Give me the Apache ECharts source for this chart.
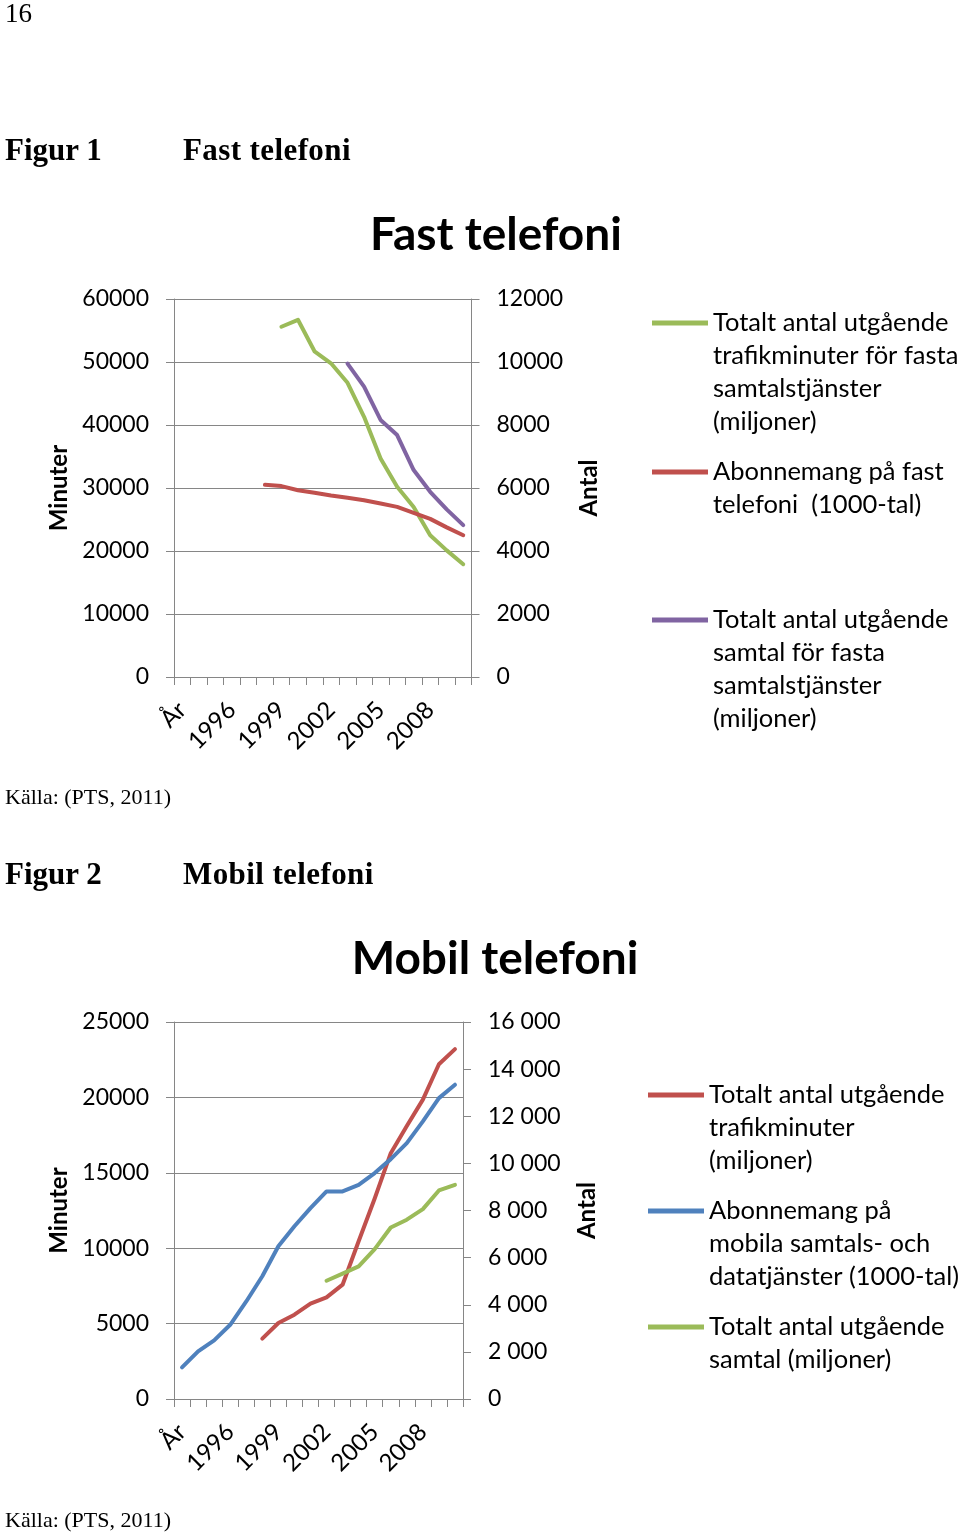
<!DOCTYPE html>
<html>
<head>
<meta charset="utf-8">
<script src="https://cdn.jsdelivr.net/npm/echarts@6/dist/echarts.min.js"></script>
<style>
  html, body { margin: 0; padding: 0; background: #fff; }
  #page { position: relative; width: 960px; height: 1537px; overflow: hidden; }
  #chart { position: absolute; left: 0; top: 0; width: 960px; height: 1537px; }
  .t { position: absolute; font-family: "Liberation Serif", serif; color: #000; white-space: nowrap; line-height: 1; }
  .h { font-weight: bold; font-size: 31px; }
  .src { font-size: 22px; }
</style>
</head>
<body>
<div id="page">
  <div id="chart"></div>
  <div class="t" style="left:5px;top:0px;font-size:27px">16</div>
  <div class="t h" style="left:5px;top:134px">Figur 1</div>
  <div class="t h" style="left:183px;top:134px;letter-spacing:0.4px">Fast telefoni</div>
  <div class="t src" style="left:5px;top:786px">Källa: (PTS, 2011)</div>
  <div class="t h" style="left:5px;top:858px">Figur 2</div>
  <div class="t h" style="left:183px;top:858px;letter-spacing:0.4px">Mobil telefoni</div>
  <div class="t src" style="left:5px;top:1509px">Källa: (PTS, 2011)</div>
</div>
<script>
'use strict';
// Figur 1 och 2 - fast och mobil telefoni (PTS, 2011)

const years = ['År', '1994', '1995', '1996', '1997', '1998', '1999', '2000', '2001',
  '2002', '2003', '2004', '2005', '2006', '2007', '2008', '2009', '2010'];

// ---------- Fast telefoni ----------
const fastMinuter = [null, null, null, null, null, null, 55600, 56700, 51700, 49800, 46700, 41300, 34700, 30200, 27000, 22500, 20100, 17900];
const fastAbonnemang = [null, null, null, null, null, 6100, 6060, 5930, 5850, 5760, 5690, 5610, 5510, 5400, 5210, 5020, 4750, 4500];
const fastSamtal = [null, null, null, null, null, null, null, null, null, null, 9950, 9220, 8160, 7680, 6570, 5880, 5320, 4820];

// ---------- Mobil telefoni ----------
const mobilMinuter = [null, null, null, null, null, 4000, 5040, 5590, 6320, 6740, 7580, 10460, 13300, 16300, 18100, 19850, 22200, 23200];
const mobilAbonnemang = [1340, 2020, 2490, 3150, 4140, 5210, 6480, 7330, 8100, 8810, 8810, 9090, 9590, 10180, 10860, 11780, 12770, 13340];
const mobilSamtal = [null, null, null, null, null, null, null, null, null, 5020, 5320, 5630, 6360, 7280, 7610, 8060, 8850, 9090];

const N_FAST_MIN = 'Totalt antal utgående\ntrafikminuter för fasta\nsamtalstjänster\n(miljoner)';
const N_FAST_ABO = 'Abonnemang på fast\ntelefoni  (1000-tal)';
const N_FAST_SAM = 'Totalt antal utgående\nsamtal för fasta\nsamtalstjänster\n(miljoner)';
const N_MOB_MIN = 'Totalt antal utgående\ntrafikminuter\n(miljoner)';
const N_MOB_ABO = 'Abonnemang på\nmobila samtals- och\ndatatjänster (1000-tal)';
const N_MOB_SAM = 'Totalt antal utgående\nsamtal (miljoner)';

const COLOR = { blue: '#4F81BD', red: '#C0504D', green: '#9BBB59', purple: '#8064A2', axis: '#868686', text: '#000' };
const FONT = 'Lato, "Open Sans", sans-serif';
const LINE_H = 33;

const plain = (v) => String(v);
const spaced = (v) => String(v).replace(/\B(?=(\d{3})+(?!\d))/g, ' ');

function xAxis(gridIndex) {
  return {
    type: 'category', gridIndex, data: years, boundaryGap: true,
    axisLine: { lineStyle: { color: COLOR.axis, width: 1 } },
    axisTick: { show: true, interval: 0, length: 8, lineStyle: { color: COLOR.axis } },
    axisLabel: { interval: 2, rotate: 45, margin: 29, color: COLOR.text, fontFamily: FONT, fontSize: 24 },
    splitLine: { show: false }
  };
}

function yAxis(gridIndex, position, max, interval, fmt, opts) {
  return Object.assign({
    type: 'value', gridIndex, position, min: 0, max, interval,
    nameLocation: 'middle', nameRotate: 90,
    nameTextStyle: { color: COLOR.text, fontFamily: FONT, fontSize: 24, fontWeight: 'bold' },
    axisLine: { show: true, lineStyle: { color: COLOR.axis, width: 1 } },
    axisTick: { show: true, length: 8, lineStyle: { color: COLOR.axis } },
    axisLabel: { margin: 25, color: COLOR.text, fontFamily: FONT, fontSize: 23, formatter: fmt },
    splitLine: { show: false }
  }, opts);
}

function line(name, data, color, xIdx, yIdx) {
  return {
    name, type: 'line', data, xAxisIndex: xIdx, yAxisIndex: yIdx,
    symbol: 'none', smooth: false, connectNulls: false,
    lineStyle: { color, width: 4, cap: 'round', join: 'round' },
    itemStyle: { color },
    emphasis: { disabled: true }
  };
}

// legend: icon aligned with the first text line (blank lines above centre it there)
function legendAt(name, left, iconY) {
  const n = name.split('\n').length;
  const h = (2 * n - 1) * LINE_H;
  return {
    data: [name], left, top: iconY - h / 2, orient: 'vertical', padding: 0,
    itemWidth: 56, itemHeight: 5, icon: 'rect', selectedMode: false,
    formatter: (nm) => '\n'.repeat(n - 1) + nm,
    textStyle: { color: COLOR.text, fontFamily: FONT, fontSize: 25.5, lineHeight: LINE_H }
  };
}

const gridLine = { show: true, lineStyle: { color: COLOR.axis, width: 1 } };

const chart = echarts.init(document.getElementById('chart'), null, { renderer: 'canvas' });
chart.setOption({
  animation: false,
  backgroundColor: '#fff',
  title: [
    { text: 'Fast telefoni', left: 496, top: 212, textAlign: 'center', padding: 0,
      textStyle: { color: COLOR.text, fontFamily: FONT, fontSize: 46, fontWeight: 'bold' } },
    { text: 'Mobil telefoni', left: 495, top: 936, textAlign: 'center', padding: 0,
      textStyle: { color: COLOR.text, fontFamily: FONT, fontSize: 46, fontWeight: 'bold' } }
  ],
  grid: [
    { left: 174, top: 299, width: 297.5, height: 378, outerBoundsMode: 'none' },
    { left: 174, top: 1022, width: 289, height: 377, outerBoundsMode: 'none' }
  ],
  xAxis: [xAxis(0), xAxis(1)],
  yAxis: [
    yAxis(0, 'left', 60000, 10000, plain, { name: 'Minuter', nameGap: 103, splitLine: gridLine }),
    yAxis(0, 'right', 12000, 2000, plain, { name: 'Antal', nameGap: 106 }),
    yAxis(1, 'left', 25000, 5000, plain, { name: 'Minuter', nameGap: 103, splitLine: gridLine }),
    yAxis(1, 'right', 16000, 2000, spaced, { name: 'Antal', nameGap: 112 })
  ],
  legend: [
    legendAt(N_FAST_MIN, 652, 323),
    legendAt(N_FAST_ABO, 652, 472),
    legendAt(N_FAST_SAM, 652, 620),
    legendAt(N_MOB_MIN, 648, 1095),
    legendAt(N_MOB_ABO, 648, 1211),
    legendAt(N_MOB_SAM, 648, 1327)
  ],
  series: [
    line(N_FAST_MIN, fastMinuter, COLOR.green, 0, 0),
    line(N_FAST_ABO, fastAbonnemang, COLOR.red, 0, 1),
    line(N_FAST_SAM, fastSamtal, COLOR.purple, 0, 1),
    line(N_MOB_MIN, mobilMinuter, COLOR.red, 1, 2),
    line(N_MOB_ABO, mobilAbonnemang, COLOR.blue, 1, 3),
    line(N_MOB_SAM, mobilSamtal, COLOR.green, 1, 3)
  ]
});
</script>
</body>
</html>
